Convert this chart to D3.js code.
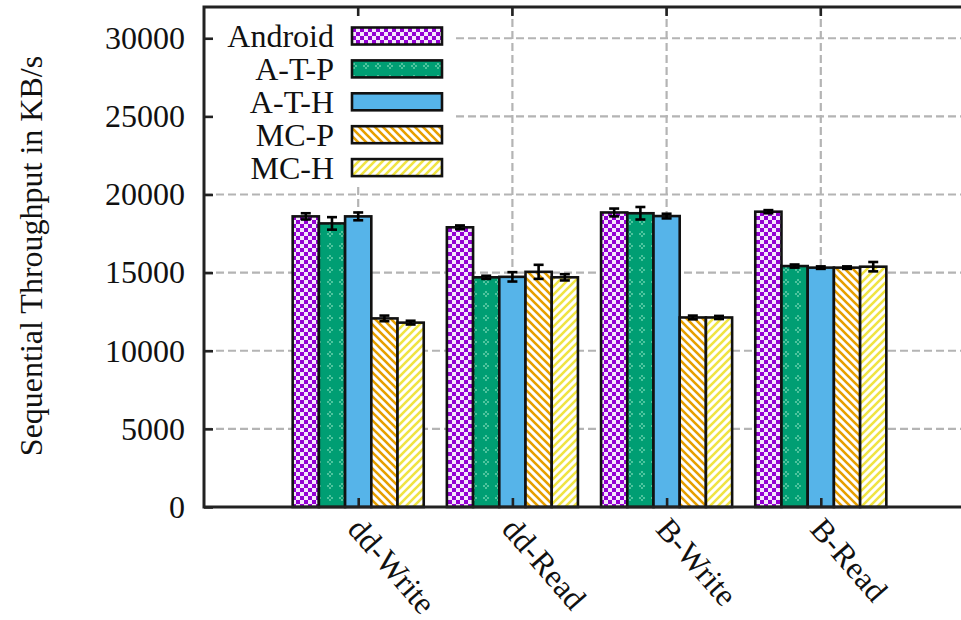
<!DOCTYPE html>
<html>
<head>
<meta charset="utf-8">
<script src="https://cdn.jsdelivr.net/npm/d3@7"></script>
<style>
  html, body { margin: 0; padding: 0; background: #fff; }
  svg { display: block; }
</style>
</head>
<body>
<div id="chart"></div>
<script>
// Data
const categories = ['dd-Write', 'dd-Read', 'B-Write', 'B-Read'];
const series = ['Android', 'A-T-P', 'A-T-H', 'MC-P', 'MC-H'];
const android = [18600, 17900, 18850, 18900];
const atp = [18150, 14700, 18800, 15420];
const ath = [18600, 14730, 18620, 15320];
const mcp = [12070, 15050, 12130, 15320];
const mch = [11800, 14700, 12130, 15380];
const androidErr = [200, 120, 250, 100];
const atpErr = [400, 100, 400, 100];
const athErr = [250, 300, 150, 80];
const mcpErr = [180, 450, 120, 80];
const mchErr = [120, 200, 100, 300];
const yTicks = [0, 5000, 10000, 15000, 20000, 25000, 30000];

const values = [android, atp, ath, mcp, mch];
const errors = [androidErr, atpErr, athErr, mcpErr, mchErr];

const W = 961, H = 620;
const font = '"Liberation Serif", "DejaVu Serif", serif';
const fontSize = '32px';

const svg = d3.select('#chart').append('svg')
    .attr('width', W)
    .attr('height', H);

// Patterns for bar fills
const defs = svg.append('defs');

const pAndroid = defs.append('pattern').attr('id', 'p-android')
    .attr('patternUnits', 'userSpaceOnUse').attr('width', 8).attr('height', 8);
pAndroid.append('rect').attr('width', 8).attr('height', 8).attr('fill', '#9400d3');
pAndroid.append('rect').attr('width', 4).attr('height', 4).attr('fill', '#f4e6fb');
pAndroid.append('rect').attr('x', 4).attr('y', 4).attr('width', 4).attr('height', 4).attr('fill', '#f4e6fb');

const pAtp = defs.append('pattern').attr('id', 'p-atp')
    .attr('patternUnits', 'userSpaceOnUse').attr('width', 12).attr('height', 12);
pAtp.append('rect').attr('width', 12).attr('height', 12).attr('fill', '#009e73');
pAtp.append('path').attr('d', 'M3,5h2v2h-2zM5,3h2v2h-2zM7,5h2v2h-2zM5,7h2v2h-2z').attr('fill', '#4fc49e');

const pMcp = defs.append('pattern').attr('id', 'p-mcp')
    .attr('patternUnits', 'userSpaceOnUse').attr('width', 8).attr('height', 8);
pMcp.append('rect').attr('width', 8).attr('height', 8).attr('fill', '#fff');
pMcp.append('path').attr('d', 'M-2,-2L10,10M-2,6L2,10M6,-2L10,2')
    .attr('stroke', '#e69f00').attr('stroke-width', 2.6);

const pMch = defs.append('pattern').attr('id', 'p-mch')
    .attr('patternUnits', 'userSpaceOnUse').attr('width', 8).attr('height', 8);
pMch.append('rect').attr('width', 8).attr('height', 8).attr('fill', '#fff');
pMch.append('path').attr('d', 'M-2,10L10,-2M-2,2L2,-2M6,10L10,6')
    .attr('stroke', '#f0e442').attr('stroke-width', 2.6);

const fills = ['url(#p-android)', 'url(#p-atp)', '#56b4e9', 'url(#p-mcp)', 'url(#p-mch)'];

// Scales
const plotLeft = 204, plotRight = 975, plotTop = 7, plotBottom = 507;
const x = d3.scaleLinear().domain([-1, 4]).range([plotLeft, plotRight]);
const y = d3.scaleLinear().domain([0, 32000]).range([plotBottom, plotTop]);
const inner = d3.scaleBand().domain(series).range([-0.425, 0.425]);

const barW = x(inner.bandwidth()) - x(0);

// Grid lines
const grid = svg.append('g')
    .attr('stroke', '#b4b4b4')
    .attr('stroke-width', 2.2)
    .attr('stroke-dasharray', '8,4');

grid.selectAll('.hgrid')
    .data(yTicks.filter(d => d > 0))
    .enter().append('line')
    .attr('x1', plotLeft).attr('x2', plotRight)
    .attr('y1', d => y(d)).attr('y2', d => y(d));

grid.selectAll('.vgrid')
    .data(categories)
    .enter().append('line')
    .attr('x1', (d, i) => x(i)).attr('x2', (d, i) => x(i))
    .attr('y1', plotTop).attr('y2', plotBottom);

// Bars
const rows = [];
categories.forEach((c, ci) => {
    series.forEach((s, si) => {
        rows.push({ ci, si, v: values[si][ci], e: errors[si][ci] });
    });
});

svg.append('g').selectAll('rect')
    .data(rows)
    .enter().append('rect')
    .attr('x', d => x(d.ci + inner(series[d.si])))
    .attr('y', d => y(d.v))
    .attr('width', barW)
    .attr('height', d => y(0) - y(d.v))
    .attr('fill', d => fills[d.si])
    .attr('stroke', '#111')
    .attr('stroke-width', 2.6);

// Error bars
const eb = svg.append('g').attr('stroke', '#000').attr('stroke-width', 2.6);
rows.forEach(d => {
    const cx = x(d.ci + inner(series[d.si])) + barW / 2;
    eb.append('line').attr('x1', cx).attr('x2', cx)
        .attr('y1', y(d.v + d.e)).attr('y2', y(d.v - d.e));
    eb.append('line').attr('x1', cx - 5).attr('x2', cx + 5)
        .attr('y1', y(d.v + d.e)).attr('y2', y(d.v + d.e));
    eb.append('line').attr('x1', cx - 5).attr('x2', cx + 5)
        .attr('y1', y(d.v - d.e)).attr('y2', y(d.v - d.e));
});

// Legend (white box over the grid)
const legend = svg.append('g');
legend.append('rect')
    .attr('x', plotLeft).attr('y', plotTop)
    .attr('width', 252).attr('height', 178)
    .attr('fill', '#fff');

series.forEach((s, i) => {
    const cy = 36 + i * 32.9;
    legend.append('text')
        .attr('x', 334).attr('y', cy + 11)
        .attr('text-anchor', 'end')
        .style('font-family', font)
        .style('font-size', fontSize)
        .style('fill', '#111')
        .text(s);
    legend.append('rect')
        .attr('x', 352).attr('y', cy - 8.5)
        .attr('width', 90).attr('height', 17)
        .attr('fill', fills[i])
        .attr('stroke', '#111')
        .attr('stroke-width', 2.6);
});

// Axes
const yAxis = d3.axisLeft(y).tickValues(yTicks).tickSize(-9).tickPadding(19)
    .tickFormat(d3.format('d'));
const gy = svg.append('g')
    .attr('transform', `translate(${plotLeft},0)`)
    .call(yAxis);
gy.select('.domain').remove();
gy.selectAll('line').attr('stroke', '#222').attr('stroke-width', 2.6);
gy.selectAll('text')
    .style('font-family', font)
    .style('font-size', fontSize)
    .style('fill', '#111');

const xAxis = d3.axisBottom(x).tickValues(d3.range(categories.length))
    .tickSize(-9).tickFormat('');
const gx = svg.append('g')
    .attr('transform', `translate(0,${plotBottom})`)
    .call(xAxis);
gx.select('.domain').remove();
gx.selectAll('line').attr('stroke', '#222').attr('stroke-width', 2.6);

// top ticks
svg.append('g').selectAll('line')
    .data(categories)
    .enter().append('line')
    .attr('x1', (d, i) => x(i)).attr('x2', (d, i) => x(i))
    .attr('y1', plotTop).attr('y2', plotTop + 9)
    .attr('stroke', '#222').attr('stroke-width', 2.6);

// Border
svg.append('path')
    .attr('d', `M${plotRight},${plotTop}H${plotLeft}V${plotBottom}H${plotRight}`)
    .attr('fill', 'none')
    .attr('stroke', '#222')
    .attr('stroke-width', 3);

// Category labels, rotated
svg.append('g').selectAll('text')
    .data(categories)
    .enter().append('text')
    .attr('transform', (d, i) => `translate(${x(i) - 12},${530}) rotate(49)`)
    .style('font-family', font)
    .style('font-size', fontSize)
    .style('fill', '#111')
    .text(d => d);

// Y axis title
svg.append('text')
    .attr('transform', `translate(42,256) rotate(-90)`)
    .attr('text-anchor', 'middle')
    .style('font-family', font)
    .style('font-size', fontSize)
    .style('fill', '#111')
    .text('Sequential Throughput in KB/s');
</script>
</body>
</html>
